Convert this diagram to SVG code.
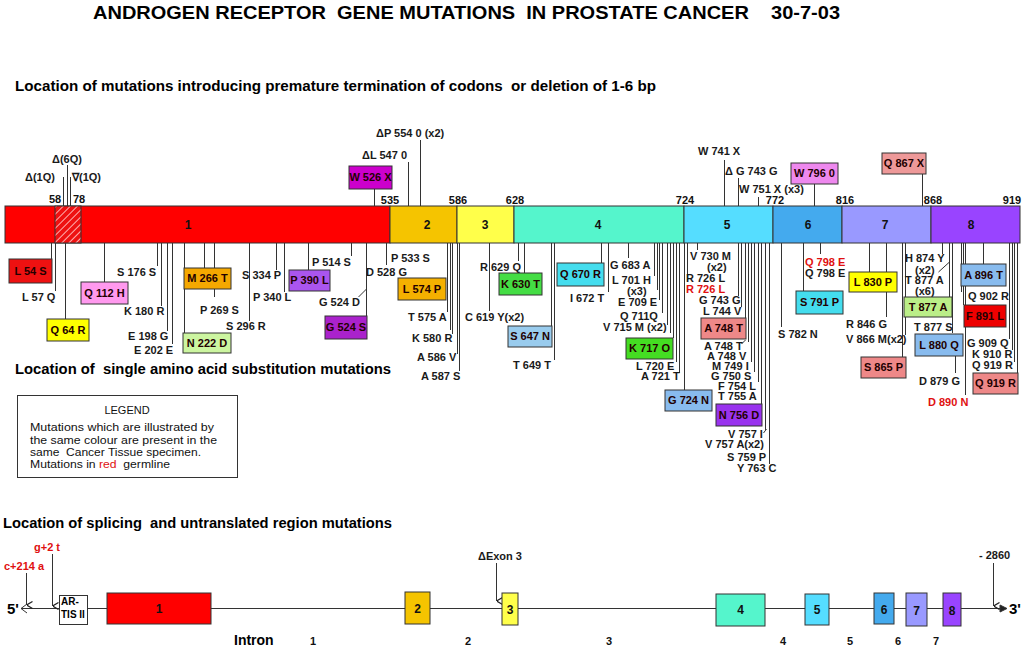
<svg xmlns="http://www.w3.org/2000/svg" width="1024" height="650" viewBox="0 0 1024 650" xml:space="preserve">
<style>
text{font-family:"Liberation Sans",Arial,sans-serif;white-space:pre}
.lb{font-size:11px;font-weight:bold;fill:#1a1a1a}
.bt{font-size:11px;font-weight:bold;fill:#220000}
.rd{fill:#e01010}
.num{font-size:11px;font-weight:bold;fill:#111;text-anchor:middle}
.ex{font-size:12px;font-weight:bold;fill:#111;text-anchor:middle}
.hd{font-size:14px;font-weight:bold;fill:#000}
.bx{stroke:#333;stroke-width:1}
.ln{stroke:#333;stroke-width:1;fill:none}
.lg{font-size:11px;fill:#111}
</style>
<defs>
<pattern id="hatch" width="5" height="5" patternUnits="userSpaceOnUse" patternTransform="rotate(45)">
<rect width="5" height="5" fill="#ee1111"/>
<line x1="0" y1="0" x2="0" y2="5" stroke="#ffb0b0" stroke-width="2"/>
</pattern>
<marker id="ad" viewBox="0 0 8 8" refX="4" refY="8" markerWidth="8" markerHeight="8" orient="auto-start-reverse" markerUnits="userSpaceOnUse">
<path d="M0.5,2 L4,8 L7.5,2" fill="none" stroke="#222" stroke-width="1.2"/>
</marker>
</defs>
<rect width="1024" height="650" fill="#fff"/>

<g id="titles">
<text x="93" y="19" font-size="19" font-weight="bold" textLength="747" lengthAdjust="spacingAndGlyphs">ANDROGEN RECEPTOR  GENE MUTATIONS  IN PROSTATE CANCER    30-7-03</text>
<text x="15" y="91" font-size="15" font-weight="bold" textLength="641" lengthAdjust="spacingAndGlyphs">Location of mutations introducing premature termination of codons  or deletion of 1-6 bp</text>
<text x="15" y="374" class="hd" textLength="376" lengthAdjust="spacingAndGlyphs">Location of  single amino acid substitution mutations</text>
<text x="3" y="528" class="hd" textLength="389" lengthAdjust="spacingAndGlyphs">Location of splicing  and untranslated region mutations</text>
</g>

<g id="protein-bar">
<rect x="5" y="206" width="385" height="37" fill="#ff0000" class="bx"/>
<rect x="55" y="206" width="26" height="37" fill="url(#hatch)" class="bx"/>
<rect x="390" y="206" width="67" height="37" fill="#f5c400" class="bx"/>
<rect x="457" y="206" width="57" height="37" fill="#ffff4a" class="bx"/>
<rect x="514" y="206" width="170" height="37" fill="#55f5cc" class="bx"/>
<rect x="684" y="206" width="89" height="37" fill="#55ddff" class="bx"/>
<rect x="773" y="206" width="69" height="37" fill="#44aaee" class="bx"/>
<rect x="842" y="206" width="89" height="37" fill="#9999ff" class="bx"/>
<rect x="931" y="206" width="89" height="37" fill="#9944ff" class="bx"/>
<text x="188" y="229" class="ex">1</text>
<text x="427" y="229" class="ex">2</text>
<text x="485" y="229" class="ex">3</text>
<text x="598" y="229" class="ex">4</text>
<text x="727" y="229" class="ex">5</text>
<text x="808" y="229" class="ex">6</text>
<text x="885" y="229" class="ex">7</text>
<text x="971" y="229" class="ex">8</text>
<text x="55" y="203" class="num">58</text>
<text x="79" y="203" class="num">78</text>
<text x="390" y="204" class="num">535</text>
<text x="458" y="204" class="num">586</text>
<text x="515" y="204" class="num">628</text>
<text x="685" y="204" class="num">724</text>
<text x="775" y="204" class="num">772</text>
<text x="845" y="204" class="num">816</text>
<text x="933" y="204" class="num">868</text>
<text x="1012" y="204" class="num">919</text>
</g>

<g id="connectors" class="ln" transform="translate(0.5,0)">
<path d="M63,177V206M67,165V206M70,177V206"/>
<path d="M374,189V206M408,162V206M420,140V206"/>
<path d="M724,160V206M738,178V206M758,197V206M814,184V206M922,174V206"/>
<path d="M51,243V259M55,243V291M65,243V319M104,243V282M157,243V266M161,243V306M167,243V331M172,243V344M184,243V333"/>
<path d="M204,243V268M214,243V268M214,289V297M249,243V321M276,243V270M284,243V292M308,243V270M351,243V256M366,243V316M358,297L366,289M386,243V265"/>
<path d="M447,243V312M450,243V330M452,243V334M457,243V354M459,243V371M518,243V261M524,243V273M489,243V311M551,243V326M554,243V360"/>
<path d="M601,243V263M608,243V292M628,243V258M654,243V276M657,243V290M659,243V300M662,243V313M667,243V325M670,243V333M673,243V338M676,243V362M679,243V373M684,243V390"/>
<path d="M687,243V280M697,243V250M738,243V296M741,243V307M745,243V318M748,243V342M751,243V362M754,243V372M758,243V382M761,243V404M765,243V430M769,243V464M741,344L745,340M763,433L766,429M781,243V327"/>
<path d="M820,243V254M803,243V291M869,243V272M886,243V272M886,292V317M902,243V357M905,243V335M938,272L949,262M942,243V254M949,243V297M952,243V333M955,356V373M965,243V395"/>
<path d="M983,243V264M961,243V292M963,243V305M1009,243V339M1012,243V350M1014,243V362M1017,243V373"/>
</g>

<g id="top-mutations">
<g id="d6q"><text x="52" y="163" class="lb">Δ(6Q)</text></g>
<g id="d1q"><text x="25" y="181" class="lb">Δ(1Q)</text></g>
<g id="i1q"><text x="72" y="181" class="lb">∇(1Q)</text></g>
<g id="w526x"><rect x="349" y="166" width="43" height="23" fill="#cc00cc" class="bx"/><text x="370.5" y="181" class="bt" text-anchor="middle">W 526 X</text></g>
<g id="dl547"><text x="362" y="159" class="lb">ΔL 547 0</text></g>
<g id="dp554"><text x="376" y="137" class="lb">ΔP 554 0 (x2)</text></g>
<g id="w741x"><text x="698" y="155" class="lb">W 741 X</text></g>
<g id="dg743"><text x="725" y="175" class="lb">Δ G 743 G</text></g>
<g id="w751x"><text x="739" y="193" class="lb">W 751 X (x3)</text></g>
<g id="w796"><rect x="791" y="163" width="47" height="21" fill="#ee88ee" class="bx"/><text x="814.5" y="177" class="bt" text-anchor="middle">W 796 0</text></g>
<g id="q867x"><rect x="882" y="153" width="44" height="21" fill="#ee9999" class="bx"/><text x="904" y="167" class="bt" text-anchor="middle">Q 867 X</text></g>
</g>

<g id="exon1-mutations">
<g id="l54s"><rect x="9" y="259" width="43" height="24" fill="#ee1111" class="bx"/><text x="30.5" y="275" class="bt" text-anchor="middle">L 54 S</text></g>
<g id="l57q"><text x="22" y="301" class="lb">L 57 Q</text></g>
<g id="q64r"><rect x="47" y="319" width="42" height="22" fill="#ffff00" class="bx"/><text x="68" y="334" class="bt" text-anchor="middle">Q 64 R</text></g>
<g id="q112h"><rect x="81" y="282" width="47" height="22" fill="#ff99ee" class="bx"/><text x="104.5" y="297" class="bt" text-anchor="middle">Q 112 H</text></g>
<g id="s176s"><text x="117" y="276" class="lb">S 176 S</text></g>
<g id="k180r"><text x="124" y="315" class="lb">K 180 R</text></g>
<g id="e198g"><text x="128" y="340" class="lb">E 198 G</text></g>
<g id="e202e"><text x="134" y="354" class="lb">E 202 E</text></g>
<g id="n222d"><rect x="183" y="333" width="48" height="20" fill="#ccf5a0" class="bx"/><text x="207" y="347" class="bt" text-anchor="middle">N 222 D</text></g>
<g id="m266t"><rect x="184" y="268" width="47" height="21" fill="#f5a800" class="bx"/><text x="207.5" y="282" class="bt" text-anchor="middle">M 266 T</text></g>
<g id="p269s"><text x="200" y="314" class="lb">P 269 S</text></g>
<g id="s296r"><text x="226" y="330" class="lb">S 296 R</text></g>
<g id="s334p"><text x="242" y="279" class="lb">S 334 P</text></g>
<g id="p340l"><text x="253" y="301" class="lb">P 340 L</text></g>
<g id="p390l"><rect x="289" y="270" width="41" height="21" fill="#aa55ee" class="bx"/><text x="309.5" y="284" class="bt" text-anchor="middle">P 390 L</text></g>
<g id="p514s"><text x="312" y="266" class="lb">P 514 S</text></g>
<g id="g524d"><text x="319" y="306" class="lb">G 524 D</text></g>
<g id="g524s"><rect x="325" y="316" width="42" height="23" fill="#aa22cc" class="bx"/><text x="346" y="331" class="bt" text-anchor="middle">G 524 S</text></g>
<g id="d528g"><text x="366" y="276" class="lb">D 528 G</text></g>
<g id="p533s"><text x="391" y="262" class="lb">P 533 S</text></g>
</g>

<g id="exon23-mutations">
<g id="l574p"><rect x="398" y="278" width="48" height="22" fill="#f5b000" class="bx"/><text x="422" y="293" class="bt" text-anchor="middle">L 574 P</text></g>
<g id="t575a"><text x="408" y="321" class="lb">T 575 A</text></g>
<g id="k580r"><text x="412" y="342" class="lb">K 580 R</text></g>
<g id="a586v"><text x="417" y="361" class="lb">A 586 V</text></g>
<g id="a587s"><text x="421" y="380" class="lb">A 587 S</text></g>
<g id="r629q"><text x="480" y="271" class="lb">R 629 Q</text></g>
<g id="k630t"><rect x="499" y="273" width="43" height="22" fill="#44dd44" class="bx"/><text x="520.5" y="288" class="bt" text-anchor="middle">K 630 T</text></g>
<g id="c619y"><text x="465" y="321" class="lb">C 619 Y(x2)</text></g>
<g id="s647n"><rect x="508" y="326" width="44" height="21" fill="#99ccee" class="bx"/><text x="530" y="340" class="bt" text-anchor="middle">S 647 N</text></g>
<g id="t649t"><text x="513" y="369" class="lb">T 649 T</text></g>
</g>

<g id="exon4-mutations">
<g id="q670r"><rect x="557" y="263" width="47" height="23" fill="#44ddee" class="bx"/><text x="580.5" y="278" class="bt" text-anchor="middle">Q 670 R</text></g>
<g id="i672t"><text x="570" y="302" class="lb">I 672 T</text></g>
<g id="g683a"><text x="610" y="269" class="lb">G 683 A</text></g>
<g id="l701h"><text x="612" y="284" class="lb">L 701 H</text><text x="627" y="295" class="lb">(x3)</text></g>
<g id="e709e"><text x="618" y="306" class="lb">E 709 E</text></g>
<g id="q711q"><text x="620" y="320" class="lb">Q 711Q</text></g>
<g id="v715m"><text x="603" y="331" class="lb">V 715 M (x2)</text></g>
<g id="k717o"><rect x="626" y="338" width="47" height="21" fill="#44dd22" class="bx"/><text x="649.5" y="352" class="bt" text-anchor="middle">K 717 O</text></g>
<g id="l720e"><text x="636" y="370" class="lb">L 720 E</text></g>
<g id="a721t"><text x="641" y="380" class="lb">A 721 T</text></g>
<g id="g724n"><rect x="665" y="390" width="47" height="21" fill="#88bbee" class="bx"/><text x="688.5" y="404" class="bt" text-anchor="middle">G 724 N</text></g>
</g>

<g id="exon5-mutations">
<g id="v730m"><text x="690" y="260" class="lb">V 730 M</text><text x="707" y="271" class="lb" font-size="10.5">(x2)</text></g>
<g id="r726l"><text x="686" y="282" class="lb">R 726 L</text></g>
<g id="r726l-g"><text x="686" y="293" class="lb rd">R 726 L</text></g>
<g id="g743g"><text x="699" y="304" class="lb">G 743 G</text></g>
<g id="l744v"><text x="703" y="315" class="lb">L 744 V</text></g>
<g id="a748t-box"><rect x="701" y="318" width="45" height="21" fill="#ee8888" class="bx"/><text x="723.5" y="332" class="bt" text-anchor="middle">A 748 T</text></g>
<g id="a748t"><text x="704" y="350" class="lb">A 748 T</text></g>
<g id="a748v"><text x="707" y="360" class="lb">A 748 V</text></g>
<g id="m749i"><text x="712" y="370" class="lb">M 749 I</text></g>
<g id="g750s"><text x="711" y="380" class="lb">G 750 S</text></g>
<g id="f754l"><text x="718" y="390" class="lb">F 754 L</text></g>
<g id="t755a"><text x="718" y="400" class="lb">T 755 A</text></g>
<g id="n756d"><rect x="716" y="404" width="46" height="22" fill="#9933ee" class="bx"/><text x="739" y="419" class="bt" text-anchor="middle">N 756 D</text></g>
<g id="v757i"><text x="728" y="438" class="lb">V 757 I</text></g>
<g id="v757a"><text x="705" y="448" class="lb">V 757 A(x2)</text></g>
<g id="s759p"><text x="727" y="461" class="lb">S 759 P</text></g>
<g id="y763c"><text x="737" y="472" class="lb">Y 763 C</text></g>
<g id="s782n"><text x="778" y="338" class="lb">S 782 N</text></g>
</g>

<g id="exon678-mutations">
<g id="q798e-g"><text x="805" y="266" class="lb rd">Q 798 E</text></g>
<g id="q798e"><text x="805" y="277" class="lb">Q 798 E</text></g>
<g id="s791p"><rect x="796" y="291" width="47" height="23" fill="#44ddee" class="bx"/><text x="819.5" y="306" class="bt" text-anchor="middle">S 791 P</text></g>
<g id="l830p"><rect x="849" y="272" width="48" height="20" fill="#ffff00" class="bx"/><text x="873" y="286" class="bt" text-anchor="middle">L 830 P</text></g>
<g id="r846g"><text x="846" y="328" class="lb">R 846 G</text></g>
<g id="v866m"><text x="846" y="343" class="lb">V 866 M(x2)</text></g>
<g id="s865p"><rect x="861" y="357" width="45" height="21" fill="#ee8888" class="bx"/><text x="883.5" y="371" class="bt" text-anchor="middle">S 865 P</text></g>
<g id="h874y"><text x="905" y="262" class="lb">H 874 Y</text><text x="915" y="274" class="lb">(x2)</text></g>
<g id="t877a"><text x="905" y="284" class="lb">T 877 A</text><text x="915" y="295" class="lb">(x6)</text></g>
<g id="t877a-box"><rect x="904" y="297" width="48" height="20" fill="#bbee88" class="bx"/><text x="928" y="311" class="bt" text-anchor="middle">T 877 A</text></g>
<g id="t877s"><text x="914" y="331" class="lb">T 877 S</text></g>
<g id="l880q"><rect x="915" y="334" width="48" height="22" fill="#88bbee" class="bx"/><text x="939" y="349" class="bt" text-anchor="middle">L 880 Q</text></g>
<g id="d879g"><text x="919" y="385" class="lb">D 879 G</text></g>
<g id="d890n"><text x="928" y="406" class="lb rd">D 890 N</text></g>
<g id="a896t"><rect x="961" y="264" width="45" height="22" fill="#88bbee" class="bx"/><text x="983.5" y="279" class="bt" text-anchor="middle">A 896 T</text></g>
<g id="q902r"><text x="968" y="300" class="lb">Q 902 R</text></g>
<g id="f891l"><rect x="964" y="305" width="42" height="22" fill="#ee0000" class="bx"/><text x="985" y="320" class="bt" text-anchor="middle">F 891 L</text></g>
<g id="g909q"><text x="967" y="347" class="lb">G 909 Q</text></g>
<g id="k910r"><text x="972" y="358" class="lb">K 910 R</text></g>
<g id="q919r"><text x="972" y="369" class="lb">Q 919 R</text></g>
<g id="q919r-box"><rect x="973" y="373" width="45" height="21" fill="#ee8888" class="bx"/><text x="995.5" y="387" class="bt" text-anchor="middle">Q 919 R</text></g>
</g>

<g id="legend">
<rect x="17.5" y="395.5" width="220" height="82" fill="#fff" stroke="#333"/>
<text x="127" y="414" class="lg" text-anchor="middle" font-size="12">LEGEND</text>
<text x="30" y="431" class="lg" textLength="184" lengthAdjust="spacingAndGlyphs">Mutations which are illustrated by</text>
<text x="30" y="444" class="lg" textLength="187" lengthAdjust="spacingAndGlyphs">the same colour are present in the</text>
<text x="30" y="456" class="lg" textLength="171" lengthAdjust="spacingAndGlyphs">same  Cancer Tissue specimen.</text>
<text x="30" y="468" class="lg" textLength="140" lengthAdjust="spacingAndGlyphs">Mutations in <tspan fill="#e01010">red</tspan>  germline</text>
</g>

<g id="gene-map">
<g id="gene-connectors" class="ln">
<line x1="21" y1="608.5" x2="1004" y2="608.5"/>
<path d="M27,604L21,608.5L27,613"/>
<path d="M1000,605L1007,608.5L1000,612Z" fill="#222"/>
<line x1="26.5" y1="573" x2="26.5" y2="605" marker-end="url(#ad)"/>
<line x1="52.5" y1="554" x2="52.5" y2="606" marker-end="url(#ad)"/>
<line x1="496.5" y1="563" x2="496.5" y2="601" marker-end="url(#ad)"/>
<line x1="993.5" y1="563" x2="993.5" y2="606" marker-end="url(#ad)"/>
</g>
<g id="five-prime"><text x="7" y="614" font-size="15" font-weight="bold">5'</text></g>
<g id="c214a"><text x="4" y="570" class="lb rd" font-size="10.5">c+214 a</text></g>
<g id="g2t"><text x="34" y="551" class="lb rd" font-size="10.5">g+2 t</text></g>
<g id="artis"><rect x="59.5" y="595.5" width="28" height="29" fill="#fff" stroke="#333"/><text x="61" y="605" font-size="10" font-weight="bold">AR-</text><text x="61" y="618" font-size="10" font-weight="bold">TIS II</text></g>
<g id="g-ex1"><rect x="107" y="593" width="104" height="31" fill="#ff0000" class="bx"/><text x="159" y="613" class="ex">1</text></g>
<g id="g-ex2"><rect x="405" y="592" width="25" height="32" fill="#f5c400" class="bx"/><text x="417.5" y="613" class="ex">2</text></g>
<g id="g-ex3"><rect x="502" y="593" width="16" height="32" fill="#ffff4a" class="bx"/><text x="510" y="614" class="ex">3</text></g>
<g id="g-ex4"><rect x="716" y="594" width="49" height="32" fill="#55f5cc" class="bx"/><text x="740.5" y="614" class="ex">4</text></g>
<g id="g-ex5"><rect x="805" y="594" width="24" height="31" fill="#55ddff" class="bx"/><text x="817" y="614" class="ex">5</text></g>
<g id="g-ex6"><rect x="874" y="593" width="20" height="31" fill="#44aaee" class="bx"/><text x="884" y="614" class="ex">6</text></g>
<g id="g-ex7"><rect x="906" y="593" width="21" height="33" fill="#9999ff" class="bx"/><text x="916.5" y="615" class="ex">7</text></g>
<g id="g-ex8"><rect x="943" y="593" width="18" height="33" fill="#9944ff" class="bx"/><text x="952" y="615" class="ex">8</text></g>
<g id="dexon3"><text x="478" y="560" class="lb">ΔExon 3</text></g>
<g id="m2860"><text x="979" y="559" class="lb">- 2860</text></g>
<g id="three-prime"><text x="1009" y="614" font-size="15" font-weight="bold">3'</text></g>
<g id="introns">
<text x="234" y="645" font-size="14" font-weight="bold">Intron</text>
<text x="313" y="645" class="num">1</text>
<text x="468" y="645" class="num">2</text>
<text x="609" y="645" class="num">3</text>
<text x="783" y="645" class="num">4</text>
<text x="850" y="645" class="num">5</text>
<text x="898" y="645" class="num">6</text>
<text x="936" y="645" class="num">7</text>
</g>
</g>
</svg>
